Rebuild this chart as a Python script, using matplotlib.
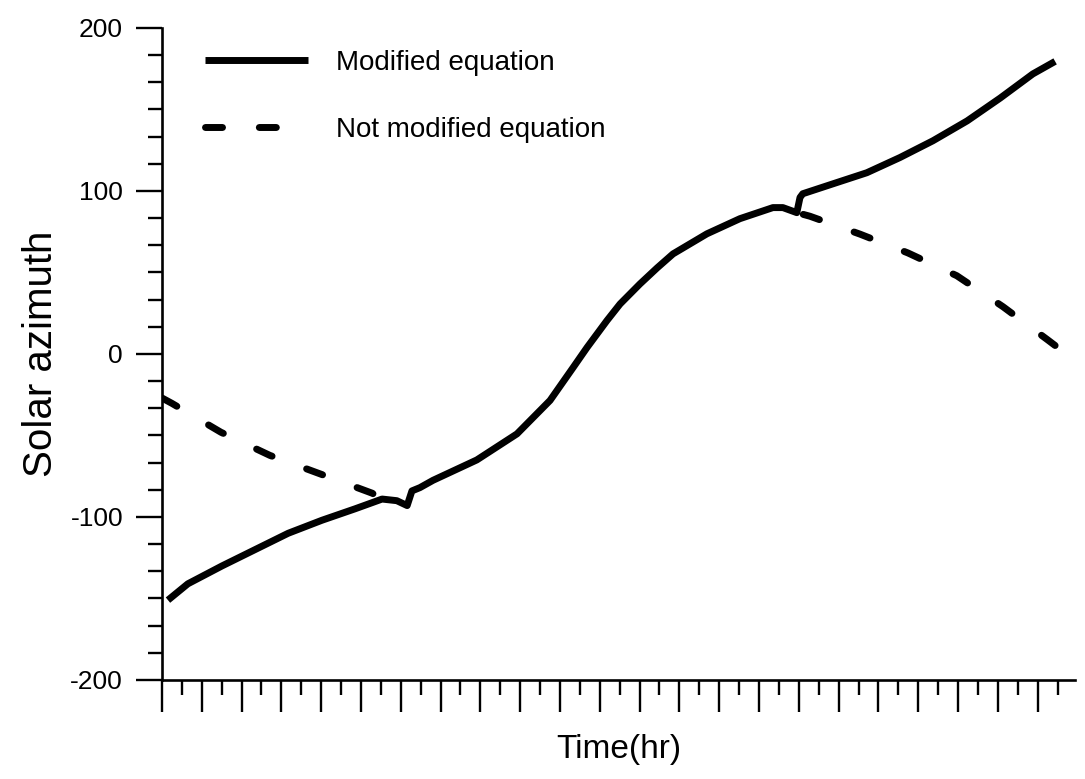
import matplotlib
matplotlib.use("Agg")
import matplotlib.pyplot as plt
from matplotlib.ticker import MultipleLocator, AutoMinorLocator

# values (x in units of the long time ticks)
mod_time = [0.15, 0.65, 1.51, 2.34, 3.17, 4.02, 4.85, 5.53, 5.9, 6.16, 6.28,
            6.48, 6.81, 7.91, 8.92, 9.75, 10.33, 10.68, 11.18, 11.51, 12.01,
            12.44, 12.84, 13.69, 14.52, 15.35, 15.6, 15.95, 16.03, 16.1,
            16.86, 17.71, 18.54, 19.37, 20.23, 21.06, 21.88, 22.44]
mod_azimuth = [-151, -141, -130, -120, -110, -102, -95, -89, -90, -93, -84,
               -82, -77.5, -65, -49, -28.5, -8.3, 4, 20.5, 30.7, 43,
               52.8, 61.4, 73.7, 83, 89.8, 89.8, 86.7, 96, 98.3,
               104.4, 111.2, 120.5, 130.8, 143, 157, 171.8, 179.5]

# the not-modified curve only shows where it leaves the modified one
unmod_left_time = [0.0, 0.25, 1.48, 2.71, 4.0, 5.28, 5.53, 5.9]
unmod_left_azimuth = [-27, -30.3, -48, -62.2, -73.8, -85.4, -89, -90]
unmod_right_time = [15.95, 16.28, 17.54, 18.74, 19.97, 21.13, 22.24, 22.44]
unmod_right_azimuth = [86.7, 84.5, 73.5, 62, 48, 29, 8.9, 5.2]

FONT = ['Liberation Sans', 'DejaVu Sans']
DASHES = (0, (2.45, 5.3))


def main():
    plt.rcParams['font.family'] = FONT
    plt.rcParams['axes.unicode_minus'] = False

    fig = plt.figure(figsize=(10.85, 7.79), dpi=100)
    ax = fig.add_axes([0.1493, 0.1271, 0.8415, 0.837])

    dash_kw = dict(color='black', linewidth=5, linestyle=DASHES,
                   dash_capstyle='round', dash_joinstyle='round', zorder=2)
    ax.plot(unmod_left_time, unmod_left_azimuth,
            label='Not modified equation', **dash_kw)
    # drawn from its far end so the pattern finishes on a dash there
    ax.plot(unmod_right_time[::-1], unmod_right_azimuth[::-1], **dash_kw)
    ax.plot(mod_time, mod_azimuth, color='black', linewidth=5,
            solid_capstyle='butt', solid_joinstyle='round',
            label='Modified equation', zorder=3)

    ax.set_xlim(0, 22.94)
    ax.set_ylim(-200, 200)

    ax.xaxis.set_major_locator(MultipleLocator(1))
    ax.xaxis.set_minor_locator(MultipleLocator(0.5))
    ax.yaxis.set_major_locator(MultipleLocator(100))
    ax.yaxis.set_minor_locator(AutoMinorLocator(6))

    ax.tick_params(axis='x', which='major', direction='out', length=23,
                   width=1.7, labelbottom=False)
    ax.tick_params(axis='x', which='minor', direction='out', length=11,
                   width=1.7)
    ax.tick_params(axis='y', which='major', direction='out', length=19,
                   width=1.7, labelsize=19, pad=9)
    ax.tick_params(axis='y', which='minor', direction='out', length=10,
                   width=1.7)

    for side in ['top', 'right']:
        ax.spines[side].set_visible(False)
    for side in ['left', 'bottom']:
        ax.spines[side].set_linewidth(1.9)

    ax.set_ylabel('Solar azimuth', fontsize=29)
    ax.yaxis.set_label_coords(-0.112, 0.5)
    ax.set_xlabel('Time(hr)', fontsize=24)
    ax.xaxis.set_label_coords(0.5, -0.083)

    handles, labels = ax.get_legend_handles_labels()
    ax.legend(handles[::-1], labels[::-1], loc='upper left',
              bbox_to_anchor=(205 / 1085, 1 - 50 / 779),
              bbox_transform=fig.transFigure, frameon=False, fontsize=20,
              handlelength=3.7, handletextpad=1.0, labelspacing=1.47,
              borderpad=0, borderaxespad=0)

    fig.savefig('out.png', dpi=100)


if __name__ == "__main__":
    main()
